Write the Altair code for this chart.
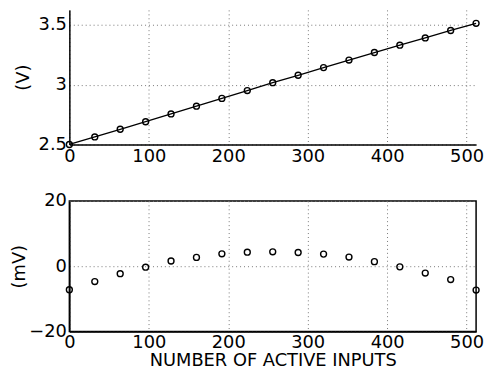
import altair as alt
import pandas as pd

inputs = [0, 32, 64, 96, 128, 160, 192, 224, 256, 288, 320, 352, 384, 416, 448, 480, 512]
volts = [2.500, 2.563, 2.627, 2.690, 2.755, 2.820, 2.885, 2.950, 3.016, 3.078, 3.142,
         3.205, 3.268, 3.329, 3.390, 3.452, 3.512]
resid_mv = [-7.2, -4.7, -2.3, -0.3, 1.6, 2.7, 3.8, 4.3, 4.4, 4.2, 3.7, 2.8, 1.4,
            -0.2, -2.1, -4.1, -7.3]
x_ticks = [0, 100, 200, 300, 400, 500]
top_ticks = [2.5, 3, 3.5]
bot_ticks = [-20, 0, 20]

df = pd.DataFrame({"n": inputs, "v": volts, "r": resid_mv})

FONT = "DejaVu Sans"
axis_common = dict(
    labelFont=FONT, labelFontSize=18, labelColor="black",
    titleFont=FONT, titleFontSize=18, titleColor="black", titleFontWeight="normal",
    domainColor="black", domainWidth=1.5, ticks=False,
    gridColor="#777", gridDash=[1, 3], gridWidth=1,
    labelOverlap=False, labelBound=False, labelFlush=False,
)

xs = alt.Scale(domain=[0, 512], nice=False)
pt_style = dict(shape="circle", size=36, color="black", strokeWidth=1.4, filled=False, opacity=1)

top_base = alt.Chart(df)
top_x = alt.X("n:Q", scale=xs, axis=alt.Axis(values=x_ticks, title=None, labelPadding=3, **axis_common))
top_y = alt.Y("v:Q", scale=alt.Scale(domain=[2.5, 3.624], nice=False, zero=False),
              axis=alt.Axis(values=top_ticks, format="~g", title="(V)", titleX=-46,
                            titleBaseline="middle", labelPadding=3, **axis_common))
top_line = top_base.mark_line(color="black", strokeWidth=1.3).encode(x=top_x, y=top_y)
top_pts = top_base.mark_point(**pt_style).encode(x="n:Q", y="v:Q")
top = alt.layer(top_line, top_pts).properties(width=411, height=136, view=alt.ViewBackground(stroke=None))

bot_x = alt.X("n:Q", scale=xs, axis=alt.Axis(values=x_ticks, title="NUMBER OF ACTIVE INPUTS",
                                             labelPadding=2, titlePadding=0, **axis_common))
bot_y = alt.Y("r:Q", scale=alt.Scale(domain=[-20, 20], nice=False),
              axis=alt.Axis(values=bot_ticks, title="(mV)", titleX=-50, titleBaseline="middle",
                            labelPadding=3, **axis_common))
bot = alt.Chart(df).mark_point(**pt_style).encode(
    x=bot_x, y=bot_y
).properties(width=411, height=132, view=alt.ViewBackground(stroke="black", strokeWidth=1.5))

chart = alt.vconcat(top, bot, spacing=26).properties(
    padding={"left": 2, "top": 0, "right": 0, "bottom": 0}
).configure(background="white")

chart.save("out.html", embed_options={"renderer": "svg", "actions": False})
